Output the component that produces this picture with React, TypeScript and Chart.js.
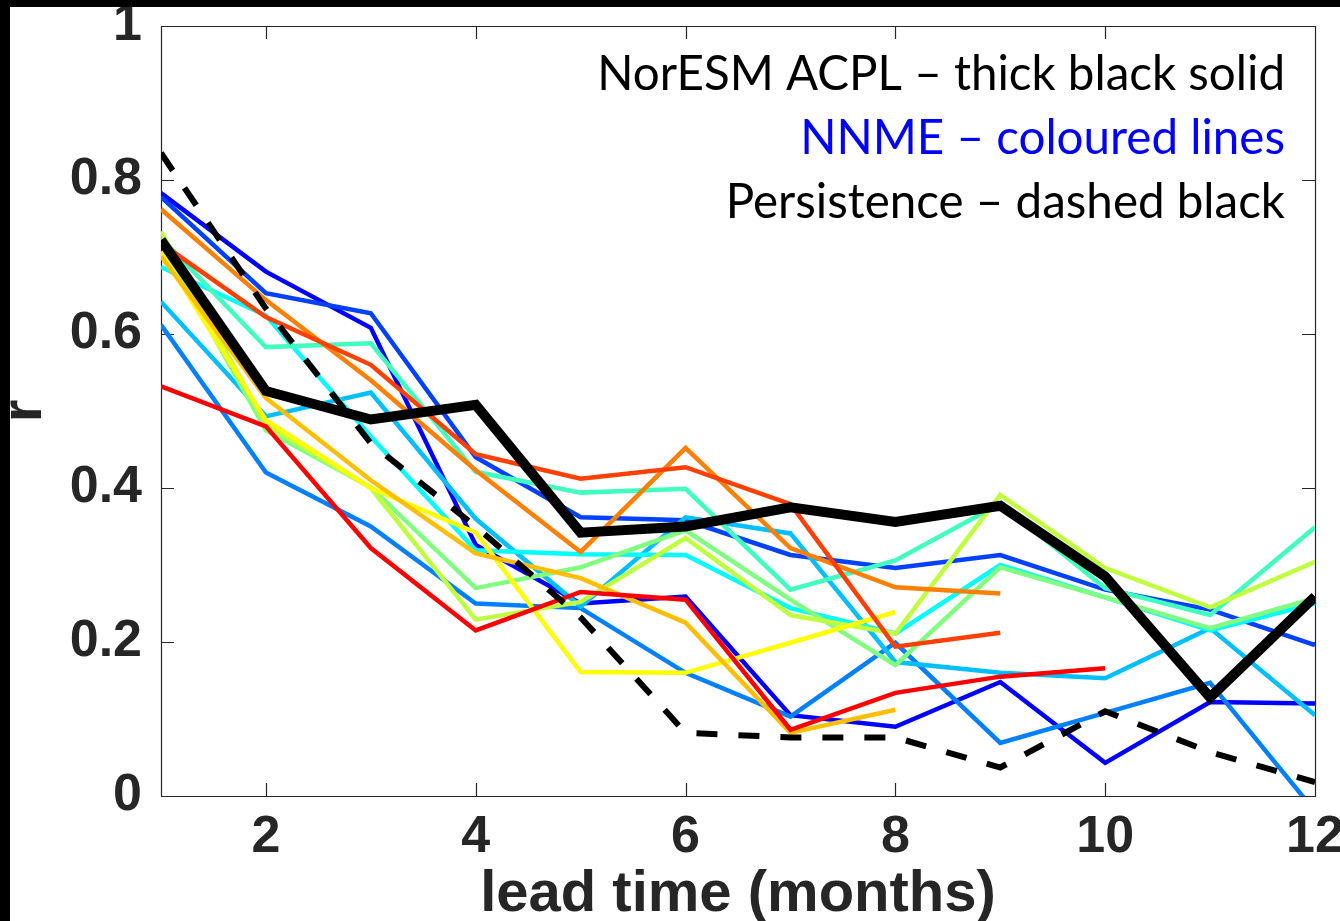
import React, { useEffect, useRef } from 'react';
import { Chart, registerables } from 'chart.js';

Chart.register(...registerables);

// ---------- data ----------
const leadTimes = [1, 2, 3, 4, 5, 6, 7, 8, 9, 10, 11, 12];
const xTickValues = [2, 4, 6, 8, 10, 12];
const yTickValues = [0, 0.2, 0.4, 0.6, 0.8, 1];

const acpl = [0.722, 0.526, 0.489, 0.508, 0.342, 0.35, 0.375, 0.356, 0.377, 0.285, 0.128, 0.259];
const persistence = [0.835, 0.633, 0.458, 0.35, 0.232, 0.082, 0.076, 0.076, 0.037, 0.11, 0.057, 0.018];

const nnmeDarkBlue = [0.783, 0.681, 0.608, 0.326, 0.25, 0.259, 0.105, 0.09, 0.148, 0.043, 0.122, 0.12];
const nnmeBlue = [0.778, 0.653, 0.627, 0.44, 0.362, 0.358, 0.313, 0.296, 0.313, 0.268, 0.242, 0.196];
const nnmeAzure = [0.612, 0.42, 0.35, 0.25, 0.244, 0.16, 0.103, 0.199, 0.069, 0.108, 0.147, -0.02];
const nnmeDeepSky = [0.642, 0.493, 0.524, 0.36, 0.246, 0.362, 0.341, 0.174, 0.16, 0.153, 0.218, 0.105];
const nnmeCyan = [0.687, 0.624, 0.467, 0.319, 0.314, 0.313, 0.244, 0.211, 0.3, 0.258, 0.215, 0.25];
const nnmeAquamarine = [0.725, 0.583, 0.588, 0.421, 0.394, 0.399, 0.268, 0.306, 0.38, 0.27, 0.235, 0.349];
const nnmeLightGreen = [0.72, 0.475, 0.401, 0.27, 0.297, 0.345, 0.255, 0.17, 0.297, 0.258, 0.218, 0.257];
const nnmeYellowGreen = [0.733, 0.482, 0.4, 0.229, 0.252, 0.335, 0.235, 0.211, 0.391, 0.296, 0.245, 0.304];
const nnmeYellow = [0.707, 0.488, 0.4, 0.342, 0.161, 0.16, 0.199, 0.239];
const nnmeGold = [0.701, 0.517, 0.41, 0.315, 0.283, 0.225, 0.082, 0.112];
const nnmeOrange = [0.762, 0.644, 0.54, 0.423, 0.317, 0.452, 0.322, 0.271, 0.263];
const nnmeRedOrange = [0.718, 0.622, 0.56, 0.444, 0.412, 0.427, 0.379, 0.194, 0.212];
const nnmeRed = [0.532, 0.48, 0.322, 0.215, 0.265, 0.255, 0.086, 0.134, 0.155, 0.166];

const nnmeSeries = [
  nnmeDarkBlue, nnmeBlue, nnmeAzure, nnmeDeepSky, nnmeCyan, nnmeAquamarine, nnmeLightGreen,
  nnmeYellowGreen, nnmeYellow, nnmeGold, nnmeOrange, nnmeRedOrange, nnmeRed,
];
const nnmeColors = [
  'rgb(0,0,255)', 'rgb(0,64,255)', 'rgb(0,128,255)', 'rgb(0,191,255)', 'rgb(0,255,255)',
  'rgb(64,255,191)', 'rgb(128,255,128)', 'rgb(191,255,64)', 'rgb(255,255,0)', 'rgb(255,191,0)',
  'rgb(255,128,0)', 'rgb(255,64,0)', 'rgb(255,0,0)',
];

const annotationLines = ['NorESM ACPL \u2013 thick black solid', 'NNME \u2013 coloured lines', 'Persistence \u2013 dashed black'];
const annotationColors = ['#000000', '#0000ff', '#000000'];

const xTitle = 'lead time (months)';
const yTitle = 'r';

// ---------- helpers ----------
const toPoints = (vals: number[]) => vals.map((v, i) => ({ x: leadTimes[i], y: v }));

const axisColor = '#262626';
const boldFont = "'Liberation Sans', Arial, Helvetica, sans-serif";

const matlabAxesPlugin = {
  id: 'matlabAxes',
  beforeDatasetsDraw(chart: any) {
    const { ctx, chartArea, scales } = chart;
    const { left, right, top, bottom } = chartArea;
    const xs = scales.x;
    const ys = scales.y;
    const tick = 13;
    ctx.save();
    ctx.strokeStyle = axisColor;
    ctx.lineWidth = 1.2;
    ctx.beginPath();
    ctx.rect(left + 0.5, top + 0.5, right - left, bottom - top);
    xTickValues.forEach((v) => {
      const px = Math.round(xs.getPixelForValue(v)) + 0.5;
      ctx.moveTo(px, bottom);
      ctx.lineTo(px, bottom - tick);
      ctx.moveTo(px, top);
      ctx.lineTo(px, top + tick);
    });
    yTickValues.forEach((v) => {
      const py = Math.round(ys.getPixelForValue(v)) + 0.5;
      ctx.moveTo(left, py);
      ctx.lineTo(left + tick, py);
      ctx.moveTo(right, py);
      ctx.lineTo(right - tick, py);
    });
    ctx.stroke();
    ctx.restore();
  },
  afterDraw(chart: any) {
    const { ctx } = chart;
    ctx.save();
    const family = "Lato, 'Open Sans', sans-serif";
    ctx.font = `100px ${family}`;
    const w100 = ctx.measureText(annotationLines[0]).width;
    const size = (688 / w100) * 100;
    ctx.font = `${size}px ${family}`;
    ctx.textAlign = 'right';
    ctx.textBaseline = 'alphabetic';
    const baselines = [90, 154, 218];
    annotationLines.forEach((t, i) => {
      ctx.fillStyle = annotationColors[i];
      ctx.fillText(t, 1285, baselines[i]);
    });
    ctx.restore();
  },
};

export default function App() {
  const canvasRef = useRef<HTMLCanvasElement | null>(null);

  useEffect(() => {
    const canvas = canvasRef.current;
    if (!canvas) return;

    const datasets: any[] = [
      {
        label: 'NorESM ACPL',
        data: toPoints(acpl),
        borderColor: '#000000',
        borderWidth: 10,
        order: 0,
      },
      {
        label: 'Persistence',
        data: toPoints(persistence),
        borderColor: '#000000',
        borderWidth: 6,
        borderDash: [21, 21],
        order: 1,
      },
      ...nnmeSeries.map((s, i) => ({
        label: `NNME ${i + 1}`,
        data: toPoints(s),
        borderColor: nnmeColors[i],
        borderWidth: 4.5,
        order: 2 + (nnmeSeries.length - 1 - i),
      })),
    ];
    datasets.forEach((d) => {
      d.pointRadius = 0;
      d.pointHoverRadius = 0;
      d.fill = false;
      d.tension = 0;
      d.borderJoinStyle = 'miter';
      d.borderCapStyle = 'butt';
    });

    const chart = new Chart(canvas, {
      type: 'line',
      data: { datasets },
      options: {
        responsive: false,
        animation: false,
        maintainAspectRatio: false,
        layout: { padding: { top: 26, right: 25, left: 0, bottom: 0 } },
        plugins: { legend: { display: false }, tooltip: { enabled: false }, title: { display: false } },
        scales: {
          x: {
            type: 'linear',
            min: 1,
            max: 12,
            grid: { display: false, drawTicks: false },
            border: { display: false },
            afterBuildTicks: (scale: any) => {
              scale.ticks = xTickValues.map((value) => ({ value }));
            },
            afterFit: (scale: any) => {
              scale.height = 125;
              scale.paddingLeft = 0;
              scale.paddingRight = 0;
            },
            ticks: {
              autoSkip: false,
              maxRotation: 0,
              padding: 10,
              color: axisColor,
              font: { family: boldFont, size: 52, weight: 'bold', lineHeight: 1.2 },
              callback: (v: any) => String(v),
            },
            title: {
              display: true,
              text: xTitle,
              color: axisColor,
              padding: 0,
              font: { family: boldFont, size: 58, weight: 'bold', lineHeight: 0.897 },
            },
          },
          y: {
            type: 'linear',
            min: 0,
            max: 1,
            grid: { display: false, drawTicks: false },
            border: { display: false },
            afterBuildTicks: (scale: any) => {
              scale.ticks = yTickValues.map((value) => ({ value }));
            },
            afterFit: (scale: any) => {
              scale.width = 161;
              scale.paddingTop = 0;
              scale.paddingBottom = 0;
            },
            ticks: {
              padding: 19,
              color: axisColor,
              font: { family: boldFont, size: 52, weight: 'bold', lineHeight: 1.2 },
              callback: (v: any) => String(v),
            },
            title: {
              display: true,
              text: yTitle,
              color: axisColor,
              padding: 0,
              font: { family: boldFont, size: 58, weight: 'bold', lineHeight: 0.862 },
            },
          },
        },
      } as any,
      plugins: [matlabAxesPlugin],
    });

    return () => chart.destroy();
  }, []);

  return (
    <div style={{ position: 'fixed', left: 0, top: 0, width: 1340, height: 921, background: '#ffffff', overflow: 'hidden' }}>
      <canvas ref={canvasRef} width={1340} height={921} style={{ position: 'absolute', left: 0, top: 0, width: 1340, height: 921 }} />
      <div style={{ position: 'absolute', left: 0, top: 0, width: 1340, height: 7, background: '#000000' }} />
      <div style={{ position: 'absolute', left: 0, top: 0, width: 10, height: 921, background: '#000000' }} />
    </div>
  );
}
